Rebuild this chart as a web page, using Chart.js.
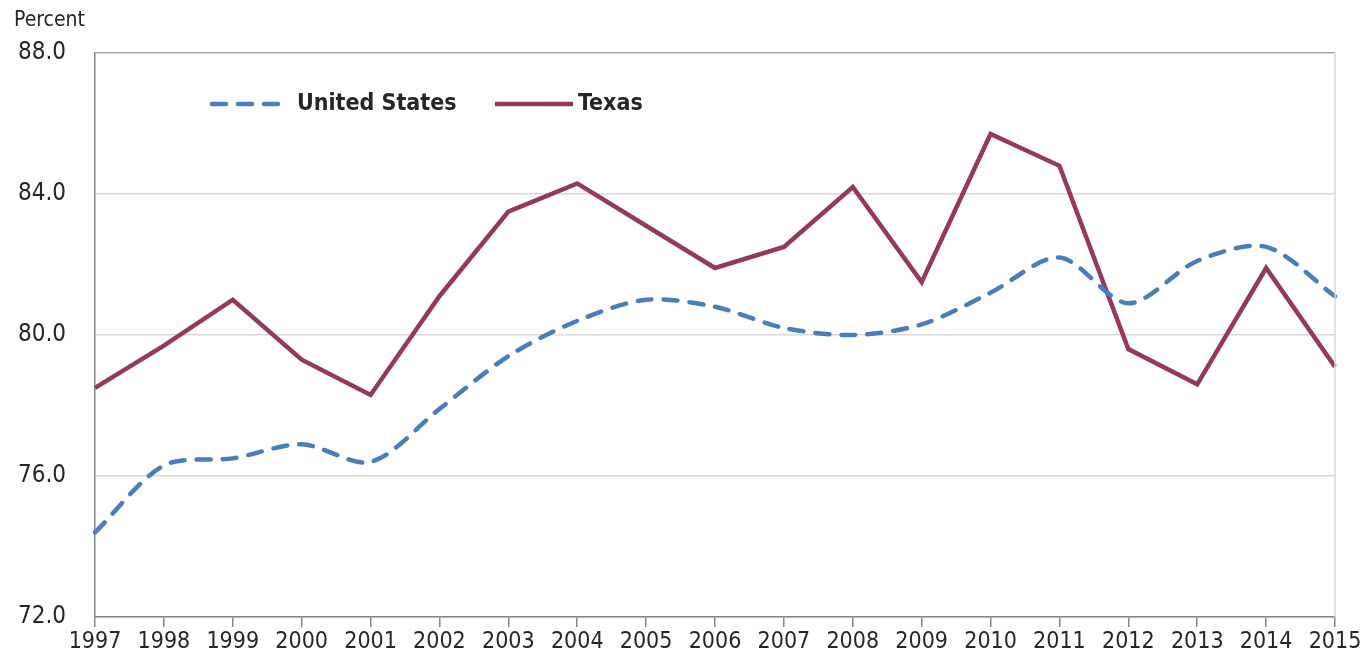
<!DOCTYPE html>
<html>
<head>
<meta charset="utf-8">
<script src="https://cdn.jsdelivr.net/npm/chart.js@4/dist/chart.umd.min.js"></script>
<style>
  html, body { margin: 0; padding: 0; background: #fff; }
  #wrap { width: 1366px; height: 662px; position: relative; }
</style>
</head>
<body>
<div id="wrap"><canvas id="chart"></canvas></div>
<script>
const years = ['1997','1998','1999','2000','2001','2002','2003','2004','2005','2006',
               '2007','2008','2009','2010','2011','2012','2013','2014','2015'];
const unitedStates = [74.4, 76.3, 76.5, 76.9, 76.4, 77.9, 79.4, 80.4, 81.0, 80.8,
                      80.2, 80.0, 80.3, 81.2, 82.2, 80.9, 82.1, 82.5, 81.1];
const texas = [78.5, 79.7, 81.0, 79.3, 78.3, 81.1, 83.5, 84.3, 83.1, 81.9,
               82.5, 84.2, 81.5, 85.7, 84.8, 79.6, 78.6, 81.9, 79.1];
const yTicks = [72, 76, 80, 84, 88];

const font = '"DejaVu Sans Condensed", "DejaVu Sans", sans-serif';
const textColor = '#262626';

// "Percent" label and the legend sit inside the picture, drawn by hand
const extras = {
  id: 'extras',
  afterDraw(chart) {
    const ctx = chart.ctx;
    ctx.save();
    ctx.fillStyle = textColor;
    ctx.font = '21px ' + font;
    ctx.textBaseline = 'middle';
    ctx.fillText('Percent', 14, 21);

    const items = [
      { ds: chart.data.datasets[0], x: 212, w: 70 },
      { ds: chart.data.datasets[1], x: 495, w: 78 }
    ];
    const y = 104;
    ctx.font = 'bold 23px ' + font;
    items.forEach(it => {
      ctx.beginPath();
      ctx.strokeStyle = it.ds.borderColor;
      ctx.lineWidth = it.ds.borderWidth;
      ctx.lineCap = it.ds.borderCapStyle || 'butt';
      ctx.setLineDash(it.ds.borderDash || []);
      ctx.moveTo(it.x, y);
      ctx.lineTo(it.x + it.w, y);
      ctx.stroke();
      ctx.setLineDash([]);
      ctx.fillStyle = textColor;
      ctx.fillText(it.ds.label, it.x + it.w + (it.ds.borderDash ? 15 : 5), y);
    });
    ctx.restore();
  }
};

new Chart(document.getElementById('chart'), {
  type: 'line',
  data: {
    labels: years,
    datasets: [
      {
        label: 'United States',
        data: unitedStates,
        borderColor: '#4a7ebb',
        borderWidth: 4.5,
        borderDash: [14, 12],
        borderCapStyle: 'round',
        tension: 0.3,
        pointRadius: 0,
        fill: false
      },
      {
        label: 'Texas',
        data: texas,
        borderColor: '#953860',
        borderWidth: 4.5,
        tension: 0,
        pointRadius: 0,
        fill: false
      }
    ]
  },
  options: {
    responsive: true,
    maintainAspectRatio: false,
    animation: false,
    layout: { padding: { top: 53, right: 31, left: 0, bottom: 0 } },
    plugins: {
      legend: { display: false },
      tooltip: { enabled: false }
    },
    scales: {
      x: {
        offset: false,
        grid: {
          drawOnChartArea: false,
          drawTicks: true,
          tickLength: 10,
          color: '#868686',
          lineWidth: 1.5
        },
        border: { color: '#868686', width: 1.5 },
        ticks: {
          color: textColor,
          font: { family: font, size: 23 },
          maxRotation: 0,
          autoSkip: false,
          padding: 1
        },
        afterFit(scale) { scale.height = 45; }
      },
      y: {
        min: 72,
        max: 88,
        afterBuildTicks(scale) { scale.ticks = yTicks.map(v => ({ value: v })); },
        grid: {
          drawTicks: false,
          color: ctx => ctx.tick && ctx.tick.value === 88 ? '#a6a6a6' : '#d9d9d9',
          lineWidth: 1.5
        },
        border: { color: '#868686', width: 1.5 },
        ticks: {
          color: textColor,
          font: { family: font, size: 24 },
          padding: 29,
          callback: v => Number(v).toFixed(1)
        },
        afterFit(scale) { scale.width = 95; }
      }
    }
  },
  plugins: [extras, {
    id: 'rightBorder',
    afterDatasetsDraw(chart) {
      const a = chart.chartArea, ctx = chart.ctx;
      ctx.save();
      ctx.strokeStyle = '#d9d9d9';
      ctx.lineWidth = 1.5;
      ctx.beginPath();
      ctx.moveTo(a.right, a.top);
      ctx.lineTo(a.right, a.bottom);
      ctx.stroke();
      ctx.restore();
    }
  }]
});
</script>
</body>
</html>
